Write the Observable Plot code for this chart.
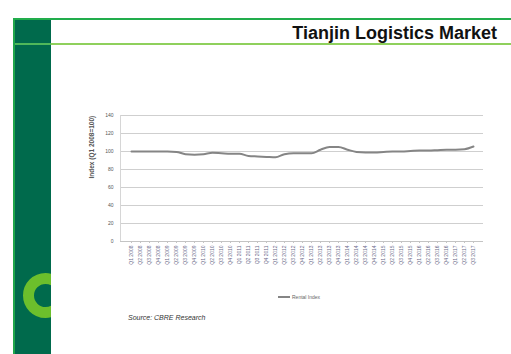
<!DOCTYPE html>
<html>
<head>
<meta charset="utf-8">
<script src="https://cdn.jsdelivr.net/npm/d3@7"></script>
<script src="https://cdn.jsdelivr.net/npm/@observablehq/plot@0.6"></script>
<style>
  html, body { margin: 0; padding: 0; }
  body { width: 511px; height: 354px; background: #fff; position: relative; overflow: hidden;
         font-family: "Liberation Sans", Arial, sans-serif; }
  .top-rule { position: absolute; left: 13px; top: 18px; width: 498px; height: 2px; background: #22ad4c; }
  .sub-rule { position: absolute; left: 13px; top: 43px; width: 498px; height: 2px; background: #8fd05c; }
  .sidebar { position: absolute; left: 13px; top: 20px; width: 38px; height: 334px; background: #006a4c;
             border-left: 2px solid #1fa64b; box-sizing: border-box; overflow: hidden; }
  .sidebar .band { position: absolute; left: 0; top: 23px; width: 100%; height: 2px; background: #4fb75a; }
  .ring { position: absolute; left: 8px; top: 253px; width: 45px; height: 45px; border-radius: 50%;
          box-sizing: border-box; border: 11.5px solid #6cbf2c; }
  .title { position: absolute; right: 14px; top: 24px; font-size: 18px; font-weight: bold; color: #111;
           line-height: 18px; white-space: nowrap; }
  #chart { position: absolute; left: 80px; top: 105px; }
  .legend { position: absolute; left: 278px; top: 294px; font-size: 5px; color: #666; display: flex; align-items: center; }
  .legend .swatch { width: 12px; height: 2px; background: #858585; margin-right: 2px; }
  .source { position: absolute; left: 128px; top: 314px; font-size: 7px; font-style: italic; color: #333; }
</style>
</head>
<body>
<div class="top-rule"></div>
<div class="sub-rule"></div>
<div class="sidebar"><div class="band"></div><div class="ring"></div></div>
<div class="title">Tianjin Logistics Market</div>
<div id="chart"></div>
<div class="legend"><span class="swatch"></span><span>Rental Index</span></div>
<div class="source">Source: CBRE Research</div>
<script>
// Quarterly periods shown along the x axis
const quarters = [
  "Q1 2008", "Q2 2008", "Q3 2008", "Q4 2008",
  "Q1 2009", "Q2 2009", "Q3 2009", "Q4 2009",
  "Q1 2010", "Q2 2010", "Q3 2010", "Q4 2010",
  "Q1 2011", "Q2 2011", "Q3 2011", "Q4 2011",
  "Q1 2012", "Q2 2012", "Q3 2012", "Q4 2012",
  "Q1 2013", "Q2 2013", "Q3 2013", "Q4 2013",
  "Q1 2014", "Q2 2014", "Q3 2014", "Q4 2014",
  "Q1 2015", "Q2 2015", "Q3 2015", "Q4 2015",
  "Q1 2016", "Q2 2016", "Q3 2016", "Q4 2016",
  "Q1 2017", "Q2 2017", "Q3 2017"
];

// Rental index per quarter (Q1 2008 = 100)
const rentalIndex = [
  100, 100, 100, 100, 100, 99.5, 97, 96.5, 97, 98.5,
  98, 97.5, 97.5, 95, 94.5, 94, 93.5, 97, 98, 98,
  98, 102, 105, 105, 102, 99.5, 99, 99, 99.5, 100,
  100, 100.5, 101, 101, 101.5, 102, 102, 102.5, 105.5
];

const yTicks = [0, 20, 40, 60, 80, 100, 120, 140];
const yTitle = "Index (Q1 2008=100)";

const rows = quarters.map((q, i) => ({quarter: q, value: rentalIndex[i]}));

const chart = Plot.plot({
  width: 420,
  height: 170,
  marginLeft: 40,
  marginRight: 17,
  marginTop: 10,
  marginBottom: 34,
  style: {fontSize: "5px", fontFamily: "Liberation Sans, Arial, sans-serif", color: "#555", background: "transparent"},
  x: {type: "point", domain: quarters, padding: 0.55, label: null},
  y: {domain: [0, 140], label: null},
  marks: [
    Plot.gridY(yTicks, {stroke: "#cfcfcf", strokeOpacity: 1}),
    Plot.frame({anchor: "left", stroke: "#d6d6d6"}),
    Plot.ruleY([0], {stroke: "#c4c4c4"}),
    Plot.axisY(yTicks, {tickSize: 0, tickPadding: 7, fill: "#555"}),
    Plot.axisX({tickRotate: -90, tickSize: 2, tickPadding: 2, stroke: "#c4c4c4", fill: "#6a6a8a"}),
    Plot.text([yTitle], {frameAnchor: "left", rotate: -90, dx: -29, fontWeight: "bold", fill: "#555", fontSize: 6.5}),
    Plot.lineY(rows, {x: "quarter", y: "value", curve: "monotone-x", stroke: "#858585", strokeWidth: 2})
  ]
});
document.getElementById("chart").appendChild(chart);
</script>
</body>
</html>
